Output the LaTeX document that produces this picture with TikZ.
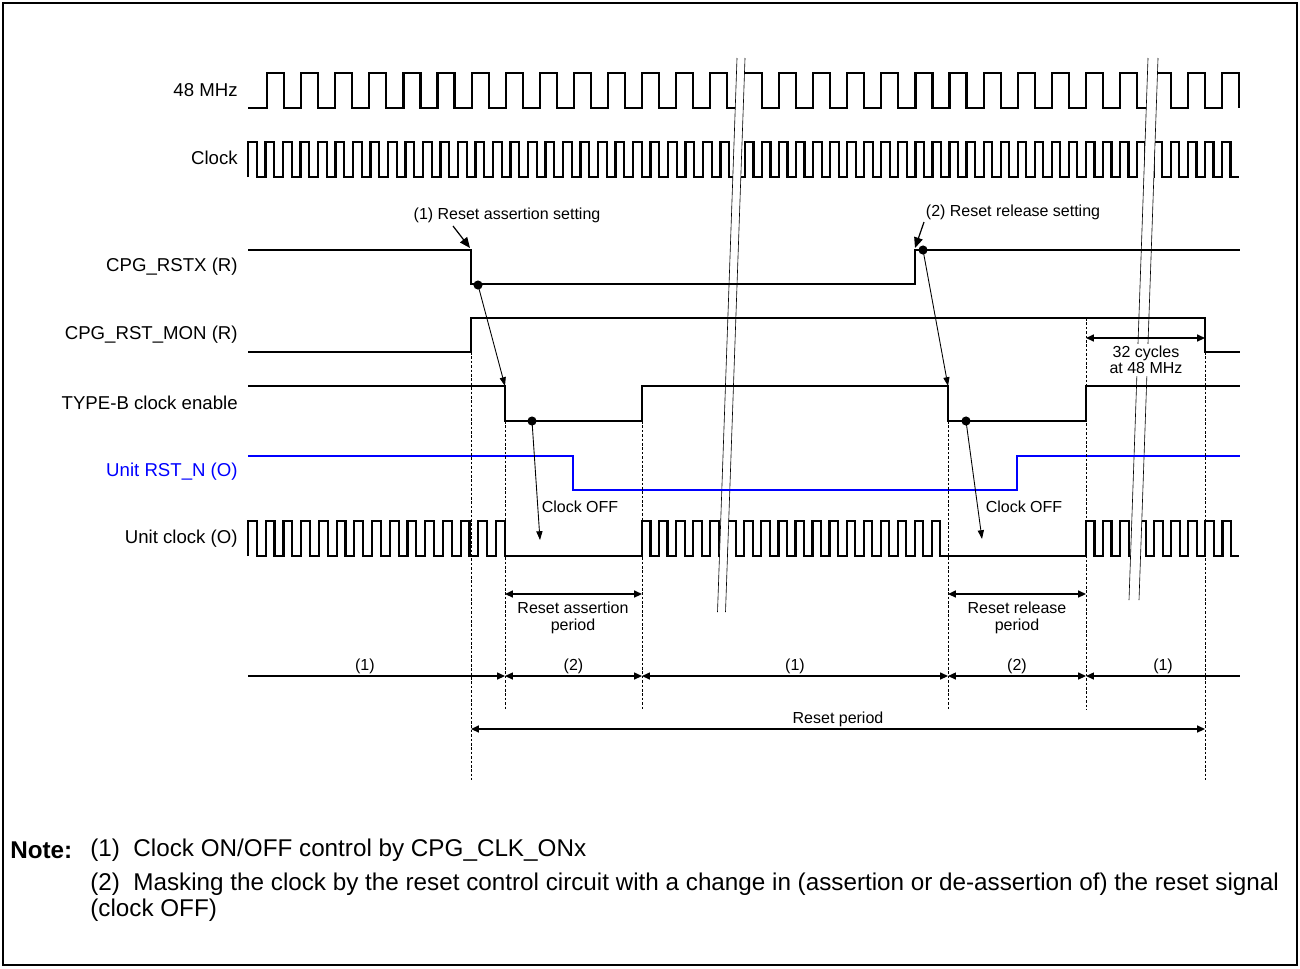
\documentclass[tikz,border=0pt]{standalone}
\usepackage{fontspec}
\setmainfont{Liberation Sans}
\usetikzlibrary{positioning, arrows.meta, calc}
\definecolor{rstblue}{RGB}{0,0,255}

\begin{document}
\begin{tikzpicture}[
        x=0.02cm, y=-0.02cm,
        >={Stealth[inset=0pt, length=4.5pt, width=4pt]},
        sig/.style={line width=1.25pt},
        rstsig/.style={sig, color=rstblue},
        brk/.style={line width=0.35pt},
        guide/.style={line width=0.4pt, dash pattern=on 1.5pt off 1pt},
        dimarrow/.style={<->, line width=0.8pt},
        phase/.style={line width=0.7pt},
        cause/.style={-{Stealth[inset=0pt, length=5pt, width=3.5pt]}, line width=0.5pt},
        callout/.style={-{Stealth[inset=0pt, length=6pt, width=5pt]}, line width=0.7pt},
        dotm/.style={circle, fill, inner sep=0pt, minimum size=5.2pt},
        siglabel/.style={anchor=east, inner sep=0pt, font=\fontsize{10.6}{12}\selectfont},
        smalltxt/.style={inner sep=1pt, align=center, font=\fontsize{9.1}{9.4}\selectfont},
        notetxt/.style={anchor=west, inner sep=0pt, align=left, font=\fontsize{13.8}{14.8}\selectfont}
    ]
    \useasboundingbox (0,0) rectangle (1300,968);
    \draw[line width=0.7pt] (3,3) rectangle (1297,965);

    % Signal names
    \node[siglabel] (lbl_48m) at (238,90) {48 MHz};
    \node[siglabel] (lbl_clk) at (238,158) {Clock};
    \node[siglabel] (lbl_rstx) at (238,267) {CPG\_RSTX (R)};
    \node[siglabel] (lbl_mon) at (238,335) {CPG\_RST\_MON (R)};
    \node[siglabel] (lbl_typeb) at (238,403) {TYPE-B clock enable};
    \node[siglabel, text=rstblue] (lbl_rstn) at (238,472) {Unit RST\_N (O)};
    \node[siglabel] (lbl_uclk) at (238,539) {Unit clock (O)};

    % 48 MHz
    \draw[sig] (248,108) -- (267,108)
        \foreach \k in {0,...,12} { -- ++(0,-35) -- ++(17.05,0) -- ++(0,35) -- ++(17.05,0) }
        -- ++(0,-35) -- ++(17.05,0) -- ++(0,35) -- (738,108);
    \draw[sig] (740,73) -- (762,73) -- (762,108) -- (779,108)
        \foreach \k in {0,...,9} { -- ++(0,-35) -- ++(17.05,0) -- ++(0,35) -- ++(17.05,0) }
        -- ++(0,-35) -- ++(17.05,0) -- ++(0,35) -- (1151,108);
    \draw[sig] (1153,73) -- (1171,73) -- (1171,108) -- (1188,108) -- (1188,73) -- (1205,73)
        -- (1205,108) -- (1222,108) -- (1222,73) -- (1239,73) -- (1239,108);

    % Clock
    \draw[sig] (248,177)
        \foreach \k in {0,...,27} { -- ++(0,-35) -- ++(8.75,0) -- ++(0,35) -- ++(8.75,0) };
    \draw[sig] (740,177) -- (744.9,177)
        \foreach \k in {0,...,22} { -- ++(0,-35) -- ++(8.525,0) -- ++(0,35) -- ++(8.525,0) }
        -- ++(0,-35) -- ++(8.525,0) -- ++(0,35) -- (1151,177);
    \draw[sig] (1151,177) -- (1153.8,177)
        \foreach \k in {0,...,4} { -- ++(0,-35) -- ++(8.525,0) -- ++(0,35) -- ++(8.525,0) };

    % Unit clock, gated
    \draw[sig] (248,556)
        \foreach \k in {0,...,14} { -- ++(0,-35) -- ++(8.86,0) -- ++(0,35) -- ++(8.86,0) } -- (642,556)
        \foreach \k in {0,...,17} { -- ++(0,-35) -- ++(8.525,0) -- ++(0,35) -- ++(8.525,0) } -- (1086,556)
        \foreach \k in {0,...,8} { -- ++(0,-35) -- ++(8.525,0) -- ++(0,35) -- ++(8.525,0) };

    % Time breaks
    \fill[white] (737,58) -- (745,58) -- (725.5,612) -- (717.5,612) -- cycle;
    \fill[white] (1148,58) -- (1158,58) -- (1139,600) -- (1129,600) -- cycle;
    \draw[brk] (737,58) -- (717.5,612);
    \draw[brk] (745,58) -- (725.5,612);
    \draw[brk] (1148,58) -- (1129,600);
    \draw[brk] (1158,58) -- (1139,600);

    % Level signals
    \draw[sig] (248,250) -- (471,250) -- (471,284) -- (915,284) -- (915,250) -- (1240,250);
    \draw[sig] (248,352) -- (471,352) -- (471,318) -- (1205,318) -- (1205,352) -- (1240,352);
    \draw[sig] (248,386) -- (505,386) -- (505,421) -- (642,421) -- (642,386) -- (948,386)
        -- (948,421) -- (1086,421) -- (1086,386) -- (1240,386);
    \draw[rstsig] (248,456) -- (573,456) -- (573,490) -- (1017,490) -- (1017,456) -- (1240,456);

    % Guide lines
    \draw[guide] (471,352) -- (471,780);
    \draw[guide] (505,421) -- (505,710);
    \draw[guide] (642,421) -- (642,710);
    \draw[guide] (948,421) -- (948,710);
    \draw[guide] (1086,318) -- (1086,710);
    \draw[guide] (1205,352) -- (1205,780);

    % Settings and their effects
    \node[smalltxt] (assert_lbl) at (507,215) {(1) Reset assertion setting};
    \node[smalltxt] (release_lbl) at (1013,212) {(2) Reset release setting};
    \coordinate (assert_from) at (453,226);
    \coordinate (rstx_fall) at (470,248);
    \coordinate (release_from) at (924,222);
    \coordinate (rstx_rise) at (915,248);
    \draw[callout] (assert_from) -- (rstx_fall);
    \draw[callout] (release_from) -- (rstx_rise);

    \node[dotm] (rstx_dot1) at (478,285) {};
    \node[dotm] (typeb_dot1) at (532,421) {};
    \node[dotm] (rstx_dot2) at (923,250) {};
    \node[dotm] (typeb_dot2) at (966,421) {};
    \coordinate (typeb_fall1) at (505,386);
    \coordinate (typeb_fall2) at (948,386);
    \coordinate (off_tip1) at (540,540);
    \coordinate (off_tip2) at (982,539);
    \draw[cause] (rstx_dot1.center) -- (typeb_fall1);
    \draw[cause] (rstx_dot2.center) -- (typeb_fall2);
    \draw[cause] (typeb_dot1.center) -- (off_tip1);
    \draw[cause] (typeb_dot2.center) -- (off_tip2);
    \node[smalltxt] (off_lbl1) at (580,507) {Clock OFF};
    \node[smalltxt] (off_lbl2) at (1024,507) {Clock OFF};

    % Periods
    \coordinate (mon_a) at (1086,338);
    \coordinate (mon_b) at (1205,338);
    \draw[dimarrow] (mon_a) -- (mon_b);
    \node[smalltxt, fill=white] (cyc_lbl) at (1146,360) {32 cycles\\at 48 MHz};

    \coordinate (ast_a) at (505,594);
    \coordinate (ast_b) at (642,594);
    \coordinate (rel_a) at (948,594);
    \coordinate (rel_b) at (1086,594);
    \draw[dimarrow] (ast_a) -- (ast_b);
    \draw[dimarrow] (rel_a) -- (rel_b);
    \node[smalltxt] (ast_lbl) at (573,618) {Reset assertion\\period};
    \node[smalltxt] (rel_lbl) at (1017,618) {Reset release\\period};

    \coordinate (ph0) at (248,676);
    \coordinate (ph1) at (505,676);
    \coordinate (ph2) at (642,676);
    \coordinate (ph3) at (948,676);
    \coordinate (ph4) at (1086,676);
    \coordinate (ph5) at (1240,676);
    \draw[phase, ->] (ph0) -- (ph1) node[pos=0.455, above, smalltxt] {(1)};
    \draw[phase, <->] (ph1) -- (ph2) node[midway, above, smalltxt] {(2)};
    \draw[phase, <->] (ph2) -- (ph3) node[midway, above, smalltxt] {(1)};
    \draw[phase, <->] (ph3) -- (ph4) node[midway, above, smalltxt] {(2)};
    \draw[phase, <-] (ph4) -- (ph5) node[midway, above, smalltxt] {(1)};

    \coordinate (rp_a) at (471,729);
    \coordinate (rp_b) at (1205,729);
    \draw[dimarrow] (rp_a) -- (rp_b) node[midway, above, smalltxt] {Reset period};

    % Note
    \node[notetxt] (note_hd) at (10,850) {\textbf{Note:}};
    \node[notetxt] (note_one) at (90,850) {(1)\ \ Clock ON/OFF control by CPG\_CLK\_ONx};
    \node[notetxt] (note_two) at (90,897) {(2)\ \ Masking the clock by the reset control circuit with a change in (assertion or de-assertion of) the reset signal\\(clock OFF)};
\end{tikzpicture}
\end{document}
